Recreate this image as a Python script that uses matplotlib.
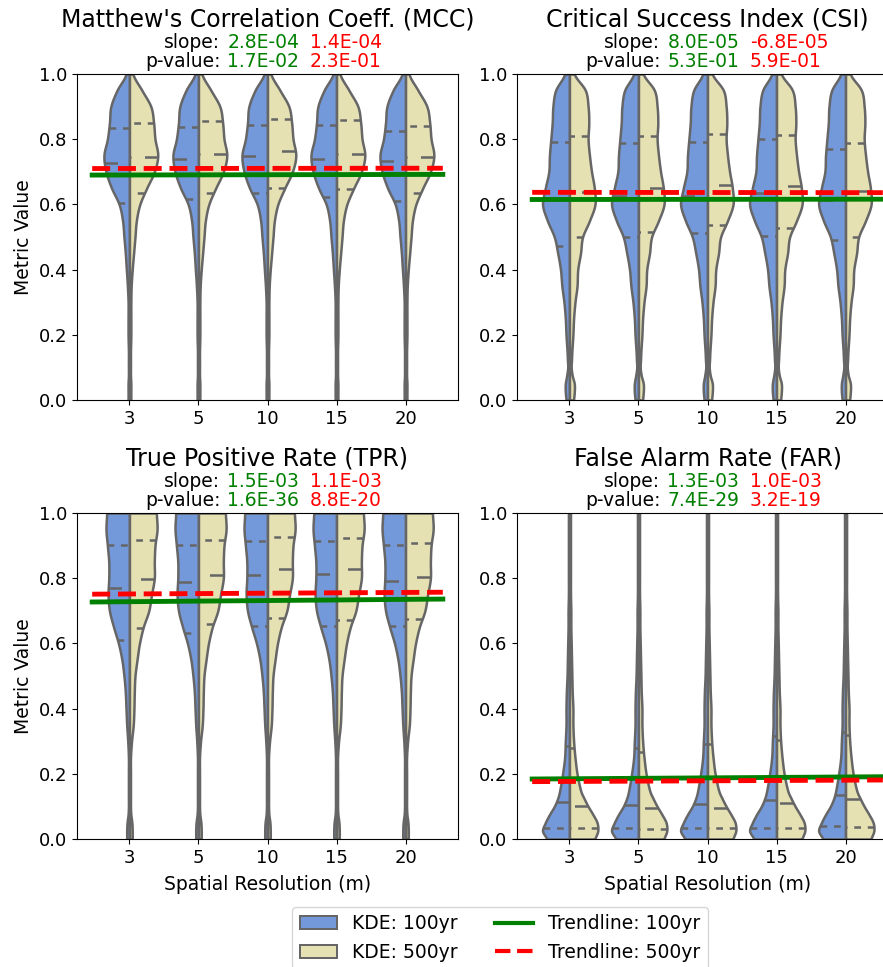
import numpy as np
import matplotlib
matplotlib.use("Agg")
from matplotlib import pyplot as plt
from matplotlib.patches import Patch
from matplotlib.lines import Line2D

# categories
resolutions = ["3", "5", "10", "15", "20"]
metrics = ["MCC", "CSI", "TPR", "FAR"]
titles = ["Matthew's Correlation Coeff. (MCC)", "Critical Success Index (CSI)",
          "True Positive Rate (TPR)", "False Alarm Rate (FAR)"]

# regression labels (100yr, 500yr)
slope_100yr = ["2.8E-04", "8.0E-05", "1.5E-03", "1.3E-03"]
slope_500yr = ["1.4E-04", "-6.8E-05", "1.1E-03", "1.0E-03"]
pval_100yr = ["1.7E-02", "5.3E-01", "1.6E-36", "7.4E-29"]
pval_500yr = ["2.3E-01", "5.9E-01", "8.8E-20", "3.2E-19"]

# trendline values at first / last end
trend_100yr = [(0.690, 0.692), (0.615, 0.616), (0.727, 0.736), (0.184, 0.191)]
trend_500yr = [(0.710, 0.711), (0.637, 0.636), (0.751, 0.757), (0.176, 0.181)]

# KDE half-widths (in category units) at these metric values
kde_y = [0, .025, .05, .075, .1, .125, .15, .2, .25, .3, .35, .4, .45, .5,
         .55, .6, .65, .7, .75, .8, .85, .9, .95, 1.0]
mcc_kde_100yr = [.02, .02, .02, .015, .015, .015, .015, .02, .02, .02, .03, .045,
                 .06, .08, .10, .15, .26, .34, .37, .32, .29, .27, .18, .05]
mcc_kde_500yr = [.02, .02, .02, .015, .015, .015, .015, .02, .02, .02, .025, .04,
                 .06, .08, .10, .15, .25, .36, .41, .37, .35, .31, .18, .05]
csi_kde_100yr = [.05, .06, .06, .04, .025, .03, .035, .05, .06, .08, .11, .13,
                 .17, .22, .32, .39, .35, .30, .29, .27, .25, .24, .20, .07]
csi_kde_500yr = [.06, .07, .07, .04, .025, .03, .035, .05, .06, .08, .11, .12,
                 .16, .19, .29, .37, .36, .32, .29, .27, .28, .27, .23, .07]
tpr_kde_100yr = [.04, .04, .035, .02, .015, .015, .015, .015, .015, .025, .04, .05,
                 .06, .08, .11, .16, .23, .29, .31, .30, .30, .32, .34, .33]
tpr_kde_500yr = [.04, .04, .035, .02, .015, .015, .015, .015, .015, .03, .055, .065,
                 .07, .08, .11, .145, .20, .28, .32, .36, .36, .37, .40, .39]
far_kde_100yr = [.33, .39, .35, .29, .22, .17, .14, .10, .07, .06, .05, .05,
                 .045, .035, .03, .025, .02, .02, .015, .015, .015, .015, .015, .015]
far_kde_500yr = [.37, .41, .40, .34, .27, .21, .16, .11, .08, .06, .05, .05,
                 .04, .035, .03, .025, .02, .02, .015, .015, .015, .015, .015, .015]

# quartiles (q1, median, q3) per resolution
mcc_q_100yr = [(.605, .727, .835), (.616, .738, .837), (.634, .748, .843), (.624, .739, .845), (.610, .733, .824)]
mcc_q_500yr = [(.634, .746, .851), (.634, .755, .857), (.651, .765, .862), (.646, .756, .859), (.634, .746, .840)]
csi_q_100yr = [(.473, .620, .790), (.500, .627, .787), (.512, .625, .790), (.504, .635, .800), (.491, .615, .771)]
csi_q_500yr = [(.500, .637, .809), (.516, .649, .811), (.538, .658, .815), (.528, .657, .813), (.500, .642, .788)]
tpr_q_100yr = [(.611, .769, .901), (.632, .787, .903), (.654, .810, .915), (.654, .813, .915), (.652, .790, .901)]
tpr_q_500yr = [(.648, .798, .917), (.661, .810, .917), (.679, .829, .926), (.671, .829, .924), (.676, .804, .907)]
far_q_100yr = [(.035, .112, .285), (.033, .104, .280), (.035, .106, .290), (.035, .121, .316), (.039, .135, .328)]
far_q_500yr = [(.033, .100, .278), (.031, .095, .268), (.033, .096, .292), (.035, .110, .303), (.037, .123, .319)]

kde_100yr = [mcc_kde_100yr, csi_kde_100yr, tpr_kde_100yr, far_kde_100yr]
kde_500yr = [mcc_kde_500yr, csi_kde_500yr, tpr_kde_500yr, far_kde_500yr]
quart_100yr = [mcc_q_100yr, csi_q_100yr, tpr_q_100yr, far_q_100yr]
quart_500yr = [mcc_q_500yr, csi_q_500yr, tpr_q_500yr, far_q_500yr]

BLUE = "#7499db"     # cornflowerblue, desaturated
BEIGE = "#e6e1b3"    # palegoldenrod, desaturated
EDGE = "#666666"
LW = 1.8
FS = 13.5


def smooth_outline(ys, ws, n=8):
    # catmull-rom pass so the outline is drawn as a curve, not a polyline
    p = np.concatenate([[ws[0]], ws, [ws[-1]]])
    q = np.concatenate([[ys[0] - (ys[1] - ys[0])], ys, [ys[-1] + (ys[-1] - ys[-2])]])
    out_y, out_w = [], []
    for k in range(1, len(p) - 2):
        t = np.linspace(0, 1, n, endpoint=False)
        for arr, out in ((q, out_y), (p, out_w)):
            a0, a1, a2, a3 = arr[k - 1], arr[k], arr[k + 1], arr[k + 2]
            out.extend(0.5 * (2 * a1 + (-a0 + a2) * t + (2 * a0 - 5 * a1 + 4 * a2 - a3) * t ** 2
                              + (-a0 + 3 * a1 - 3 * a2 + a3) * t ** 3))
    out_y.append(ys[-1])
    out_w.append(ws[-1])
    return np.array(out_y), np.clip(np.array(out_w), 0.008, None)


def half_violin(ax, x0, widths, quarts, side, color):
    ys, ws = smooth_outline(np.array(kde_y), np.array(widths))
    ax.fill_betweenx(ys, x0, x0 + side * ws, facecolor=color, edgecolor=EDGE,
                     linewidth=LW, joinstyle="round", zorder=1)
    for k, q in enumerate(quarts):
        w = np.interp(q, ys, ws)
        d = LW * 3 if k == 1 else LW * 1.5
        ax.plot([x0 + side * w, x0], [q, q], color=EDGE, lw=LW, dashes=(d, d),
                solid_capstyle="butt", zorder=2)


fig = plt.figure(figsize=(8.83, 9.67), dpi=100)
lefts = [77 / 883, 517 / 883]
bottoms = [1 - 400 / 967, 1 - 839 / 967]
w_ax, h_ax = 381 / 883, 326 / 967

for i, m in enumerate(metrics):
    ax = fig.add_axes([lefts[i % 2], bottoms[i // 2], w_ax, h_ax])
    for j in range(len(resolutions)):
        half_violin(ax, j, kde_100yr[i], quart_100yr[i][j], -1, BLUE)
        half_violin(ax, j, kde_500yr[i], quart_500yr[i][j], 1, BEIGE)

    xs = [-0.54, 4.54]
    ax.plot(xs, trend_100yr[i], color="green", lw=3.5, zorder=3)
    ax.plot(xs, trend_500yr[i], color="red", lw=3.5, ls="--", zorder=4)

    ax.set_xlim(-0.76, 4.76)
    ax.set_ylim(0, 1)
    ax.set_xticks(range(len(resolutions)))
    ax.set_xticklabels(resolutions)
    ax.set_yticks(np.arange(0, 1.01, 0.2))
    ax.tick_params(labelsize=13)
    if i % 2 == 0:
        ax.set_ylabel("Metric Value", fontsize=FS)
    if i // 2 == 1:
        ax.set_xlabel("Spatial Resolution (m)", fontsize=FS, labelpad=6)

    ax.set_title(titles[i], fontsize=17, pad=34.5)
    for txt, pos, col, off in [
        ("slope:", 0.376, "black", 18.7), (slope_100yr[i], 0.395, "green", 18.7),
        (slope_500yr[i], 0.611, "red", 18.7),
        ("p-value:", 0.376, "black", 5), (pval_100yr[i], 0.395, "green", 5),
        (pval_500yr[i], 0.611, "red", 5)]:
        ax.annotate(txt, xy=(pos, 1), xycoords="axes fraction", xytext=(0, off),
                    textcoords="offset points", ha="right" if col == "black" else "left",
                    va="baseline", fontsize=FS, color=col)

handles = [Patch(facecolor=BLUE, edgecolor=EDGE, lw=LW * 0.8),
           Patch(facecolor=BEIGE, edgecolor=EDGE, lw=LW * 0.8),
           Line2D([], [], color="green", lw=3),
           Line2D([], [], color="red", lw=3, ls="--")]
labels = ["KDE: 100yr", "KDE: 500yr", "Trendline: 100yr", "Trendline: 500yr"]
fig.legend(handles, labels, loc="center", bbox_to_anchor=(500 / 883, 1 - 938 / 967),
           ncol=2, fontsize=FS)

fig.savefig("out.png", dpi=100)
